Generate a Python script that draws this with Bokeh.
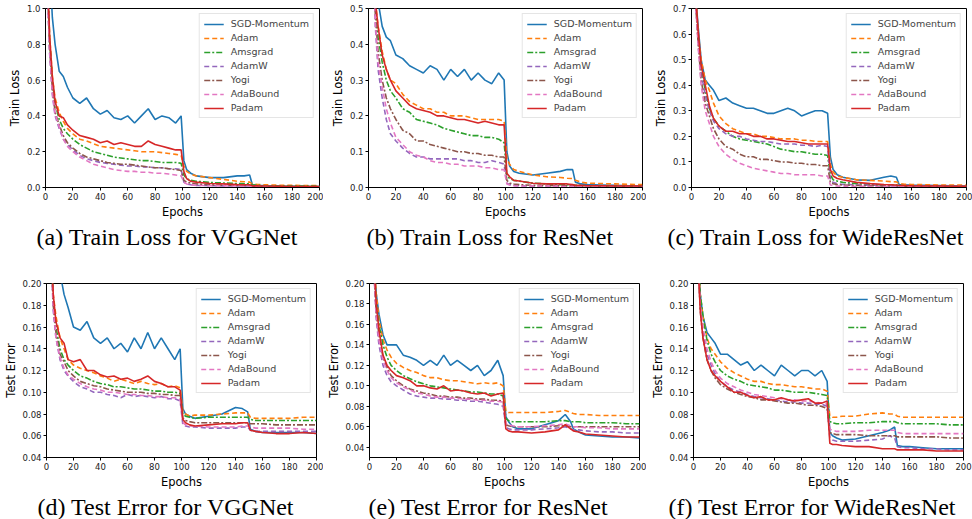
from bokeh.plotting import figure
from bokeh.layouts import column, row
from bokeh.models import Range1d, FixedTicker, PrintfTickFormatter, Legend, LegendItem, Title
from bokeh.embed import file_html
from bokeh.resources import INLINE

EPOCHS = [1, 3, 5, 7, 10, 13, 16, 20, 25, 30, 35, 40, 45, 50, 55, 60, 65, 70, 75, 80,
          85, 90, 95, 99, 101, 103, 106, 110, 120, 130, 140, 145, 149,
          151, 155, 160, 170, 180, 190, 200]

NAMES = ["SGD-Momentum", "Adam", "Amsgrad", "AdamW", "Yogi", "AdaBound", "Padam"]
COLORS = ["#1f77b4", "#ff7f0e", "#2ca02c", "#9467bd", "#8c564b", "#e377c2", "#d62728"]
DASHES = ["solid", "5 3", "6 2 2 2", "5 3", "6 2 2 2", "5 3", "solid"]

# (a) Train Loss, VGGNet
a_sgd = [2.0, 1.25, 0.95, 0.80, 0.65, 0.62, 0.56, 0.50, 0.47, 0.50, 0.44, 0.41, 0.43, 0.39, 0.38, 0.40, 0.36, 0.40, 0.44, 0.38,
         0.40, 0.39, 0.36, 0.40, 0.15, 0.10, 0.08, 0.065, 0.055, 0.055, 0.065, 0.065, 0.07, 0.015, 0.012, 0.010, 0.008, 0.007, 0.006, 0.005]
a_adam = [1.3, 0.85, 0.62, 0.50, 0.42, 0.37, 0.33, 0.30, 0.27, 0.26, 0.245, 0.23, 0.225, 0.22, 0.215, 0.21, 0.205, 0.20, 0.20, 0.20,
          0.195, 0.19, 0.185, 0.18, 0.12, 0.09, 0.075, 0.065, 0.055, 0.045, 0.035, 0.032, 0.03, 0.02, 0.017, 0.015, 0.013, 0.012, 0.011, 0.010]
a_ams = [1.3, 0.82, 0.60, 0.47, 0.38, 0.33, 0.30, 0.27, 0.24, 0.22, 0.20, 0.19, 0.18, 0.17, 0.165, 0.16, 0.155, 0.15, 0.15, 0.145,
         0.14, 0.14, 0.14, 0.135, 0.07, 0.05, 0.04, 0.035, 0.028, 0.025, 0.022, 0.021, 0.02, 0.015, 0.012, 0.010, 0.009, 0.008, 0.008, 0.007]
a_adamw = [1.2, 0.75, 0.52, 0.40, 0.33, 0.27, 0.24, 0.21, 0.18, 0.16, 0.15, 0.14, 0.135, 0.13, 0.125, 0.12, 0.12, 0.115, 0.115, 0.11,
           0.11, 0.105, 0.105, 0.10, 0.03, 0.02, 0.015, 0.012, 0.01, 0.009, 0.008, 0.008, 0.008, 0.006, 0.006, 0.005, 0.005, 0.004, 0.004, 0.004]
a_yogi = [1.2, 0.78, 0.55, 0.42, 0.35, 0.29, 0.25, 0.22, 0.19, 0.17, 0.16, 0.15, 0.14, 0.135, 0.13, 0.13, 0.125, 0.12, 0.115, 0.11,
          0.11, 0.105, 0.10, 0.095, 0.04, 0.03, 0.025, 0.02, 0.015, 0.013, 0.012, 0.011, 0.011, 0.008, 0.007, 0.007, 0.006, 0.006, 0.005, 0.005]
a_adab = [1.2, 0.76, 0.53, 0.41, 0.34, 0.27, 0.23, 0.20, 0.17, 0.15, 0.13, 0.12, 0.11, 0.10, 0.095, 0.09, 0.09, 0.085, 0.085, 0.08,
          0.08, 0.075, 0.07, 0.065, 0.03, 0.02, 0.015, 0.012, 0.01, 0.009, 0.008, 0.007, 0.007, 0.005, 0.005, 0.005, 0.004, 0.004, 0.004, 0.004]
a_padam = [1.3, 0.85, 0.62, 0.48, 0.40, 0.39, 0.35, 0.32, 0.29, 0.28, 0.27, 0.25, 0.26, 0.24, 0.25, 0.24, 0.23, 0.23, 0.26, 0.24,
           0.23, 0.22, 0.21, 0.21, 0.09, 0.05, 0.035, 0.03, 0.022, 0.02, 0.016, 0.015, 0.015, 0.01, 0.009, 0.008, 0.007, 0.006, 0.005, 0.005]

# (b) Train Loss, ResNet
b_sgd = [1.5, 0.9, 0.62, 0.52, 0.45, 0.42, 0.41, 0.37, 0.36, 0.34, 0.33, 0.32, 0.34, 0.33, 0.30, 0.33, 0.31, 0.33, 0.30, 0.32,
         0.30, 0.29, 0.32, 0.30, 0.10, 0.06, 0.045, 0.04, 0.035, 0.04, 0.045, 0.05, 0.05, 0.015, 0.01, 0.008, 0.007, 0.006, 0.005, 0.005]
b_adam = [1.5, 0.85, 0.52, 0.45, 0.38, 0.33, 0.30, 0.29, 0.26, 0.24, 0.23, 0.22, 0.22, 0.21, 0.21, 0.20, 0.20, 0.20, 0.195, 0.19,
          0.19, 0.19, 0.19, 0.185, 0.08, 0.065, 0.05, 0.045, 0.035, 0.03, 0.028, 0.026, 0.025, 0.02, 0.015, 0.012, 0.011, 0.01, 0.009, 0.008]
b_ams = [1.5, 0.82, 0.50, 0.42, 0.35, 0.30, 0.27, 0.25, 0.22, 0.21, 0.19, 0.185, 0.18, 0.175, 0.165, 0.16, 0.155, 0.15, 0.145, 0.145,
         0.14, 0.14, 0.135, 0.125, 0.035, 0.025, 0.02, 0.018, 0.012, 0.01, 0.008, 0.008, 0.007, 0.006, 0.006, 0.005, 0.005, 0.004, 0.004, 0.004]
b_adamw = [1.4, 0.75, 0.45, 0.33, 0.25, 0.19, 0.15, 0.13, 0.11, 0.095, 0.085, 0.085, 0.08, 0.08, 0.08, 0.08, 0.08, 0.075, 0.075, 0.07,
           0.07, 0.075, 0.07, 0.065, 0.012, 0.008, 0.006, 0.005, 0.004, 0.004, 0.004, 0.004, 0.004, 0.003, 0.003, 0.003, 0.003, 0.003, 0.003, 0.003]
b_yogi = [1.4, 0.78, 0.48, 0.38, 0.30, 0.25, 0.22, 0.19, 0.16, 0.15, 0.13, 0.13, 0.12, 0.115, 0.11, 0.105, 0.10, 0.10, 0.095, 0.095,
          0.09, 0.09, 0.085, 0.085, 0.02, 0.012, 0.01, 0.008, 0.006, 0.006, 0.005, 0.005, 0.005, 0.005, 0.004, 0.004, 0.004, 0.003, 0.003, 0.003]
b_adab = [1.4, 0.76, 0.46, 0.35, 0.28, 0.22, 0.18, 0.14, 0.12, 0.10, 0.09, 0.085, 0.075, 0.07, 0.07, 0.065, 0.065, 0.06, 0.06, 0.06,
          0.055, 0.055, 0.05, 0.05, 0.01, 0.007, 0.005, 0.004, 0.004, 0.004, 0.003, 0.003, 0.003, 0.003, 0.003, 0.003, 0.003, 0.003, 0.003, 0.003]
b_padam = [1.5, 0.85, 0.52, 0.45, 0.37, 0.33, 0.30, 0.27, 0.25, 0.23, 0.22, 0.215, 0.21, 0.20, 0.20, 0.195, 0.19, 0.19, 0.185, 0.18,
           0.185, 0.18, 0.175, 0.175, 0.04, 0.03, 0.02, 0.018, 0.012, 0.01, 0.01, 0.01, 0.008, 0.006, 0.006, 0.005, 0.005, 0.004, 0.004, 0.004]

# (c) Train Loss, WideResNet
c_sgd = [1.2, 0.75, 0.62, 0.50, 0.42, 0.40, 0.38, 0.34, 0.35, 0.33, 0.32, 0.31, 0.31, 0.30, 0.29, 0.29, 0.30, 0.31, 0.30, 0.28,
         0.29, 0.30, 0.30, 0.29, 0.12, 0.07, 0.05, 0.04, 0.03, 0.028, 0.04, 0.045, 0.04, 0.012, 0.011, 0.01, 0.009, 0.008, 0.007, 0.006]
c_adam = [1.2, 0.75, 0.60, 0.50, 0.42, 0.38, 0.33, 0.28, 0.25, 0.23, 0.22, 0.21, 0.21, 0.20, 0.20, 0.195, 0.19, 0.19, 0.19, 0.185,
          0.185, 0.18, 0.18, 0.18, 0.09, 0.06, 0.045, 0.04, 0.03, 0.028, 0.025, 0.023, 0.022, 0.015, 0.013, 0.012, 0.011, 0.01, 0.01, 0.009]
c_ams = [1.2, 0.74, 0.58, 0.47, 0.38, 0.31, 0.27, 0.24, 0.22, 0.20, 0.19, 0.185, 0.18, 0.175, 0.17, 0.16, 0.15, 0.145, 0.14, 0.14,
         0.135, 0.13, 0.13, 0.125, 0.05, 0.03, 0.025, 0.02, 0.015, 0.012, 0.01, 0.01, 0.01, 0.008, 0.007, 0.007, 0.006, 0.006, 0.005, 0.005]
c_adamw = [1.2, 0.73, 0.57, 0.45, 0.36, 0.30, 0.26, 0.23, 0.21, 0.20, 0.20, 0.19, 0.185, 0.18, 0.18, 0.175, 0.17, 0.17, 0.17, 0.165,
           0.165, 0.16, 0.165, 0.16, 0.03, 0.02, 0.015, 0.012, 0.01, 0.009, 0.008, 0.007, 0.007, 0.006, 0.006, 0.006, 0.005, 0.005, 0.005, 0.005]
c_yogi = [1.2, 0.72, 0.55, 0.42, 0.33, 0.28, 0.23, 0.19, 0.16, 0.15, 0.13, 0.12, 0.12, 0.11, 0.11, 0.105, 0.10, 0.10, 0.095, 0.095,
          0.09, 0.09, 0.085, 0.085, 0.02, 0.015, 0.012, 0.01, 0.008, 0.007, 0.006, 0.006, 0.006, 0.005, 0.005, 0.005, 0.004, 0.004, 0.004, 0.004]
c_adab = [1.2, 0.72, 0.54, 0.40, 0.30, 0.25, 0.20, 0.16, 0.13, 0.11, 0.095, 0.085, 0.075, 0.07, 0.065, 0.06, 0.055, 0.055, 0.05, 0.05,
          0.05, 0.05, 0.045, 0.045, 0.01, 0.008, 0.006, 0.005, 0.005, 0.004, 0.004, 0.004, 0.004, 0.004, 0.004, 0.004, 0.004, 0.004, 0.004, 0.004]
c_padam = [1.2, 0.75, 0.60, 0.48, 0.40, 0.32, 0.27, 0.24, 0.22, 0.22, 0.21, 0.21, 0.20, 0.20, 0.19, 0.19, 0.185, 0.18, 0.18, 0.175,
           0.17, 0.17, 0.17, 0.17, 0.07, 0.045, 0.035, 0.03, 0.02, 0.015, 0.012, 0.011, 0.01, 0.008, 0.008, 0.007, 0.006, 0.006, 0.005, 0.005]

# (d) Test Error, VGGNet
d_sgd = [0.5, 0.35, 0.30, 0.25, 0.21, 0.19, 0.178, 0.16, 0.157, 0.165, 0.15, 0.145, 0.15, 0.14, 0.145, 0.137, 0.15, 0.14, 0.155, 0.14,
         0.15, 0.14, 0.13, 0.14, 0.085, 0.08, 0.078, 0.076, 0.078, 0.08, 0.086, 0.085, 0.082, 0.066, 0.064, 0.063, 0.063, 0.063, 0.063, 0.062]
d_adam = [0.5, 0.25, 0.19, 0.17, 0.15, 0.14, 0.13, 0.125, 0.122, 0.12, 0.118, 0.115, 0.113, 0.11, 0.112, 0.11, 0.108, 0.11, 0.108, 0.107,
          0.108, 0.105, 0.106, 0.104, 0.082, 0.08, 0.078, 0.079, 0.079, 0.08, 0.081, 0.081, 0.081, 0.077, 0.076, 0.076, 0.076, 0.076, 0.077, 0.077]
d_ams = [0.5, 0.25, 0.185, 0.16, 0.14, 0.13, 0.125, 0.12, 0.115, 0.113, 0.11, 0.108, 0.107, 0.105, 0.105, 0.104, 0.103, 0.103, 0.102, 0.101,
         0.101, 0.10, 0.10, 0.099, 0.08, 0.078, 0.077, 0.076, 0.077, 0.077, 0.077, 0.077, 0.077, 0.075, 0.074, 0.074, 0.074, 0.074, 0.074, 0.074]
d_adamw = [0.5, 0.24, 0.175, 0.15, 0.13, 0.12, 0.115, 0.11, 0.105, 0.103, 0.10, 0.10, 0.098, 0.097, 0.095, 0.098, 0.096, 0.097, 0.096, 0.095,
           0.096, 0.094, 0.094, 0.092, 0.07, 0.069, 0.068, 0.068, 0.067, 0.067, 0.067, 0.068, 0.068, 0.065, 0.064, 0.064, 0.064, 0.064, 0.064, 0.064]
d_yogi = [0.5, 0.24, 0.18, 0.155, 0.135, 0.128, 0.12, 0.115, 0.11, 0.108, 0.106, 0.105, 0.103, 0.102, 0.101, 0.10, 0.10, 0.10, 0.099, 0.099,
          0.098, 0.098, 0.097, 0.097, 0.076, 0.074, 0.073, 0.072, 0.072, 0.072, 0.072, 0.072, 0.072, 0.071, 0.071, 0.071, 0.07, 0.07, 0.07, 0.07]
d_adab = [0.5, 0.24, 0.18, 0.15, 0.132, 0.122, 0.116, 0.112, 0.108, 0.105, 0.103, 0.102, 0.10, 0.10, 0.099, 0.098, 0.098, 0.097, 0.097, 0.096,
          0.096, 0.095, 0.095, 0.093, 0.072, 0.07, 0.069, 0.069, 0.068, 0.068, 0.068, 0.069, 0.069, 0.068, 0.067, 0.067, 0.067, 0.067, 0.066, 0.066]
d_padam = [0.5, 0.25, 0.19, 0.165, 0.15, 0.145, 0.13, 0.128, 0.13, 0.12, 0.12, 0.116, 0.114, 0.115, 0.112, 0.113, 0.11, 0.112, 0.115, 0.11,
           0.108, 0.105, 0.105, 0.102, 0.075, 0.072, 0.07, 0.069, 0.07, 0.071, 0.071, 0.072, 0.072, 0.065, 0.064, 0.063, 0.062, 0.062, 0.063, 0.062]

# (e) Test Error, ResNet
e_sgd = [0.45, 0.23, 0.19, 0.17, 0.15, 0.14, 0.14, 0.14, 0.13, 0.128, 0.125, 0.12, 0.125, 0.12, 0.13, 0.12, 0.125, 0.12, 0.115, 0.12,
         0.11, 0.115, 0.125, 0.11, 0.07, 0.065, 0.06, 0.058, 0.058, 0.062, 0.066, 0.072, 0.065, 0.058, 0.055, 0.052, 0.051, 0.05, 0.05, 0.049]
e_adam = [0.45, 0.23, 0.19, 0.165, 0.145, 0.135, 0.128, 0.122, 0.118, 0.115, 0.113, 0.11, 0.108, 0.108, 0.106, 0.105, 0.105, 0.104, 0.103, 0.102,
          0.103, 0.102, 0.103, 0.10, 0.075, 0.074, 0.074, 0.074, 0.074, 0.074, 0.075, 0.076, 0.074, 0.073, 0.072, 0.072, 0.071, 0.071, 0.071, 0.071]
e_ams = [0.45, 0.23, 0.18, 0.16, 0.14, 0.128, 0.12, 0.115, 0.11, 0.107, 0.104, 0.102, 0.10, 0.099, 0.098, 0.097, 0.096, 0.095, 0.094, 0.094,
         0.093, 0.092, 0.092, 0.09, 0.068, 0.066, 0.065, 0.065, 0.065, 0.065, 0.066, 0.066, 0.065, 0.065, 0.065, 0.064, 0.064, 0.064, 0.063, 0.063]
e_adamw = [0.45, 0.22, 0.165, 0.14, 0.12, 0.11, 0.104, 0.10, 0.096, 0.092, 0.09, 0.089, 0.088, 0.088, 0.087, 0.087, 0.086, 0.086, 0.085, 0.085,
           0.084, 0.083, 0.082, 0.08, 0.06, 0.058, 0.057, 0.057, 0.057, 0.058, 0.059, 0.06, 0.058, 0.057, 0.057, 0.056, 0.055, 0.055, 0.054, 0.054]
e_yogi = [0.45, 0.22, 0.17, 0.15, 0.128, 0.118, 0.11, 0.105, 0.10, 0.097, 0.095, 0.093, 0.092, 0.09, 0.09, 0.089, 0.089, 0.088, 0.088, 0.087,
          0.087, 0.086, 0.086, 0.085, 0.062, 0.061, 0.06, 0.06, 0.06, 0.06, 0.061, 0.061, 0.06, 0.06, 0.06, 0.06, 0.06, 0.06, 0.06, 0.06]
e_adab = [0.45, 0.22, 0.17, 0.145, 0.125, 0.115, 0.108, 0.103, 0.099, 0.096, 0.093, 0.092, 0.09, 0.089, 0.089, 0.088, 0.088, 0.087, 0.087, 0.086,
          0.086, 0.085, 0.085, 0.084, 0.063, 0.062, 0.061, 0.06, 0.06, 0.061, 0.062, 0.063, 0.061, 0.06, 0.06, 0.059, 0.059, 0.058, 0.058, 0.058]
e_padam = [0.45, 0.23, 0.18, 0.155, 0.13, 0.12, 0.115, 0.11, 0.108, 0.105, 0.10, 0.10, 0.098, 0.097, 0.10, 0.095, 0.096, 0.095, 0.093, 0.092,
           0.093, 0.09, 0.092, 0.093, 0.058, 0.056, 0.055, 0.055, 0.054, 0.055, 0.057, 0.062, 0.058, 0.056, 0.055, 0.053, 0.052, 0.051, 0.05, 0.05]

# (f) Test Error, WideResNet
f_sgd = [0.45, 0.24, 0.19, 0.17, 0.155, 0.15, 0.145, 0.135, 0.135, 0.13, 0.125, 0.128, 0.12, 0.125, 0.12, 0.115, 0.125, 0.12, 0.115, 0.12,
         0.12, 0.115, 0.12, 0.11, 0.063, 0.06, 0.058, 0.056, 0.057, 0.06, 0.063, 0.065, 0.068, 0.051, 0.05, 0.05, 0.049, 0.048, 0.048, 0.048]
f_adam = [0.45, 0.24, 0.19, 0.17, 0.15, 0.14, 0.135, 0.128, 0.122, 0.118, 0.115, 0.112, 0.11, 0.11, 0.108, 0.107, 0.107, 0.106, 0.105, 0.105,
          0.104, 0.103, 0.103, 0.101, 0.078, 0.077, 0.077, 0.078, 0.078, 0.08, 0.081, 0.08, 0.08, 0.078, 0.077, 0.077, 0.077, 0.077, 0.077, 0.077]
f_ams = [0.45, 0.24, 0.19, 0.17, 0.148, 0.135, 0.128, 0.12, 0.115, 0.112, 0.11, 0.107, 0.106, 0.105, 0.104, 0.102, 0.102, 0.101, 0.10, 0.10,
         0.10, 0.099, 0.098, 0.097, 0.073, 0.072, 0.071, 0.071, 0.072, 0.072, 0.073, 0.073, 0.073, 0.072, 0.071, 0.071, 0.071, 0.071, 0.07, 0.07]
f_adamw = [0.45, 0.23, 0.18, 0.155, 0.135, 0.125, 0.117, 0.11, 0.105, 0.102, 0.10, 0.098, 0.096, 0.095, 0.094, 0.093, 0.092, 0.091, 0.091, 0.09,
           0.09, 0.089, 0.089, 0.087, 0.058, 0.056, 0.055, 0.055, 0.055, 0.056, 0.057, 0.06, 0.058, 0.05, 0.049, 0.049, 0.048, 0.048, 0.047, 0.047]
f_yogi = [0.45, 0.23, 0.175, 0.15, 0.13, 0.12, 0.113, 0.107, 0.103, 0.10, 0.098, 0.096, 0.095, 0.093, 0.093, 0.092, 0.091, 0.09, 0.09, 0.089,
          0.088, 0.088, 0.087, 0.085, 0.063, 0.062, 0.061, 0.061, 0.061, 0.06, 0.06, 0.06, 0.06, 0.059, 0.059, 0.059, 0.059, 0.059, 0.058, 0.058]
f_adab = [0.45, 0.23, 0.18, 0.16, 0.14, 0.128, 0.12, 0.113, 0.108, 0.105, 0.102, 0.10, 0.098, 0.097, 0.096, 0.095, 0.094, 0.093, 0.093, 0.092,
          0.092, 0.091, 0.09, 0.089, 0.066, 0.065, 0.064, 0.064, 0.064, 0.065, 0.065, 0.065, 0.065, 0.063, 0.062, 0.062, 0.062, 0.062, 0.062, 0.062]
f_padam = [0.45, 0.23, 0.175, 0.15, 0.13, 0.12, 0.115, 0.11, 0.105, 0.10, 0.10, 0.097, 0.095, 0.096, 0.093, 0.093, 0.095, 0.093, 0.092, 0.093,
           0.094, 0.09, 0.09, 0.092, 0.053, 0.052, 0.052, 0.051, 0.05, 0.05, 0.048, 0.048, 0.048, 0.047, 0.047, 0.047, 0.047, 0.046, 0.046, 0.046]

TRAIN_TICKS_A = [0.0, 0.2, 0.4, 0.6, 0.8, 1.0]
TRAIN_TICKS_B = [0.0, 0.1, 0.2, 0.3, 0.4, 0.5]
TRAIN_TICKS_C = [0.0, 0.1, 0.2, 0.3, 0.4, 0.5, 0.6, 0.7]
TEST_TICKS = [0.04, 0.06, 0.08, 0.10, 0.12, 0.14, 0.16, 0.18, 0.20]
X_TICKS = [0, 20, 40, 60, 80, 100, 120, 140, 160, 180, 200]

PANELS = [
    dict(series=[a_sgd, a_adam, a_ams, a_adamw, a_yogi, a_adab, a_padam], ylabel="Train Loss",
         yr=(0.0, 1.0), ticks=TRAIN_TICKS_A, fmt="%.1f", caption="(a) Train Loss for VGGNet"),
    dict(series=[b_sgd, b_adam, b_ams, b_adamw, b_yogi, b_adab, b_padam], ylabel="Train Loss",
         yr=(0.0, 0.5), ticks=TRAIN_TICKS_B, fmt="%.1f", caption="(b) Train Loss for ResNet"),
    dict(series=[c_sgd, c_adam, c_ams, c_adamw, c_yogi, c_adab, c_padam], ylabel="Train Loss",
         yr=(0.0, 0.7), ticks=TRAIN_TICKS_C, fmt="%.1f", caption="(c) Train Loss for WideResNet"),
    dict(series=[d_sgd, d_adam, d_ams, d_adamw, d_yogi, d_adab, d_padam], ylabel="Test Error",
         yr=(0.04, 0.20), ticks=TEST_TICKS, fmt="%.2f", caption="(d) Test Error for VGGNet"),
    dict(series=[e_sgd, e_adam, e_ams, e_adamw, e_yogi, e_adab, e_padam], ylabel="Test Error",
         yr=(0.03, 0.20), ticks=TEST_TICKS, fmt="%.2f", caption="(e) Test Error for ResNet"),
    dict(series=[f_sgd, f_adam, f_ams, f_adamw, f_yogi, f_adab, f_padam], ylabel="Test Error",
         yr=(0.04, 0.20), ticks=TEST_TICKS, fmt="%.2f", caption="(f) Test Error for WideResNet"),
]

# layout geometry (pixels): width, height, borders, caption offset
GEOM = [
    dict(w=323, h=275, l=45, r=4, t=8, b=88, cap=-9),
    dict(w=323, h=275, l=45, r=4, t=8, b=88, cap=-2),
    dict(w=326, h=275, l=45, r=6, t=8, b=88, cap=-24),
    dict(w=323, h=244, l=45, r=7, t=8, b=61, cap=-9),
    dict(w=323, h=244, l=46, r=7, t=8, b=61, cap=-1),
    dict(w=326, h=244, l=47, r=9, t=8, b=61, cap=-25),
]


def make_panel(spec, g):
    p = figure(width=g["w"], height=g["h"], x_range=Range1d(0, 200), y_range=Range1d(*spec["yr"]),
               output_backend="svg", toolbar_location=None,
               min_border_left=g["l"], min_border_right=g["r"],
               min_border_top=g["t"], min_border_bottom=g["b"])
    p.background_fill_color = "white"
    p.border_fill_color = "white"
    p.outline_line_color = "black"
    p.outline_line_width = 1
    p.grid.visible = False

    items = []
    for name, col, dash, ys in zip(NAMES, COLORS, DASHES, spec["series"]):
        r = p.line(EPOCHS, ys, line_color=col, line_width=1.6, line_dash=dash)
        items.append(LegendItem(label=name, renderers=[r]))

    p.xaxis.ticker = FixedTicker(ticks=X_TICKS)
    p.yaxis.ticker = FixedTicker(ticks=spec["ticks"])
    p.yaxis.formatter = PrintfTickFormatter(format=spec["fmt"])
    p.xaxis.axis_label = "Epochs"
    p.yaxis.axis_label = spec["ylabel"]
    for ax in (p.xaxis[0], p.yaxis[0]):
        ax.axis_line_color = "black"
        ax.axis_line_width = 1
        ax.major_tick_line_color = "black"
        ax.minor_tick_line_color = None
        ax.major_tick_out = 3
        ax.major_tick_in = 0
        ax.major_label_text_font = "DejaVu Sans"
        ax.major_label_text_font_size = "8.5px"
        ax.major_label_text_color = "#222222"
        ax.major_label_standoff = 2
        ax.axis_label_text_font = "DejaVu Sans"
        ax.axis_label_text_font_size = "11.5px"
        ax.axis_label_text_font_style = "normal"
        ax.axis_label_text_color = "black"
        ax.axis_label_standoff = 2

    leg = Legend(items=items, location="top_right", margin=5, padding=4, spacing=3,
                 label_height=10, glyph_height=10, glyph_width=20, label_standoff=7,
                 label_text_font="DejaVu Sans", label_text_font_size="9.5px",
                 border_line_color="#cccccc", border_line_width=1,
                 background_fill_color="white", background_fill_alpha=0.8)
    p.add_layout(leg)

    cap = Title(text=spec["caption"], align="left", offset=g["cap"], standoff=0,
                text_font="Liberation Serif", text_font_size="24px",
                text_font_style="normal", text_color="black")
    p.add_layout(cap, "below")
    return p


figs = [make_panel(s, g) for s, g in zip(PANELS, GEOM)]
layout = column(row(*figs[:3]), row(*figs[3:]))

open("out.html", "w").write(file_html(layout, INLINE))
